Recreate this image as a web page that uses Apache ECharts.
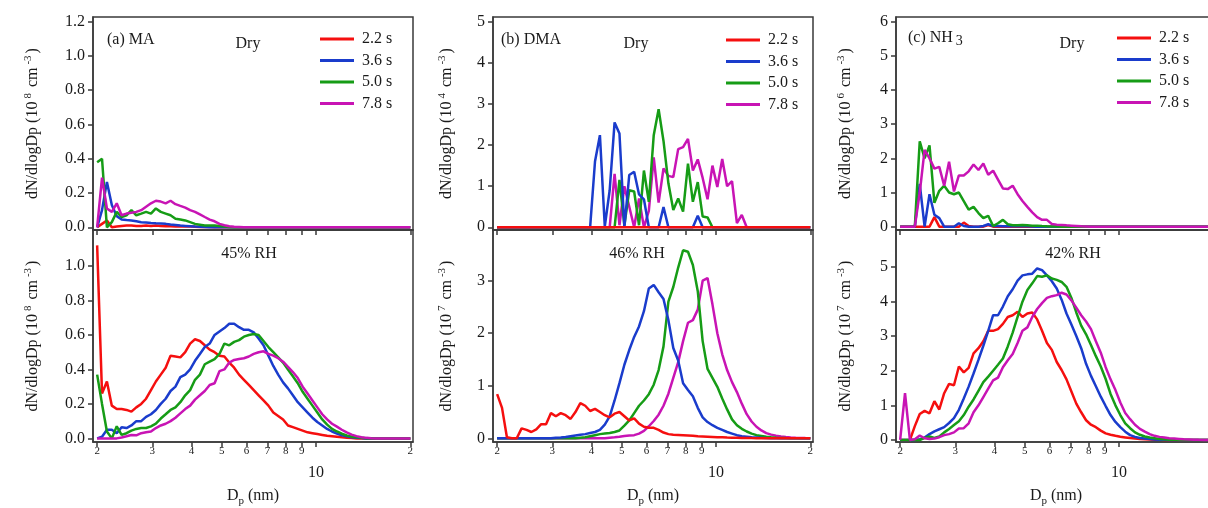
<!DOCTYPE html>
<html><head><meta charset="utf-8">
<script src="https://cdn.jsdelivr.net/npm/echarts@6/dist/echarts.min.js"></script>
<style>html,body{margin:0;padding:0;background:#fff;overflow:hidden;width:1208px;height:508px}#c{width:1240px;height:508px}</style>
</head><body><div id="c"></div>
<script>
// Particle diameter grid (nm)
const dp = [2.000,2.073,2.149,2.228,2.310,2.394,2.482,2.573,2.667,2.765,
 2.866,2.971,3.080,3.193,3.310,3.431,3.557,3.687,3.822,3.962,
 4.107,4.258,4.413,4.575,4.743,4.916,5.097,5.283,5.477,5.677,
 5.885,6.101,6.325,6.556,6.796,7.045,7.303,7.571,7.848,8.136,
 8.434,8.743,9.063,9.395,9.739,10.096,10.466,10.849,11.247,11.659,
 12.086,12.529,12.988,13.463,13.957,14.468,14.998,15.547,16.117,16.707,
 17.319,17.954,18.611,19.293,20.000];
const xTicks = [2,3,4,5,6,7,8,9,10,20];
const times = ['2.2 s','3.6 s','5.0 s','7.8 s'];

// (a) MA, dry (1e8 cm-3)
const maDry22 = [0,0.02,0.04,0,0.005,0.008,0.01,0.01,0.008,0.008,
 0.01,0.008,0.01,0.008,0.006,0.006,0.005,0.005,0.004,0.004,
 0.003,0.002,0.002,0.001,0,0,0,0,0,0,
 0,0,0,0,0,0,0,0,0,0, 0,0,0,0,0,0,0,0,0,0, 0,0,0,0,0,0,0,0,0,0, 0,0,0,0,0];
const maDry36 = [0,0.1,0.265,0.13,0.065,0.046,0.042,0.04,0.035,0.03,
 0.028,0.025,0.023,0.022,0.02,0.016,0.013,0.01,0.008,0.006,
 0.004,0.003,0.002,0,0,0,0,0,0,0,
 0,0,0,0,0,0,0,0,0,0, 0,0,0,0,0,0,0,0,0,0, 0,0,0,0,0,0,0,0,0,0, 0,0,0,0,0];
const maDry50 = [0.38,0.40,0,0.03,0.09,0.06,0.07,0.1,0.07,0.08,
 0.09,0.08,0.11,0.09,0.08,0.07,0.05,0.045,0.04,0.03,
 0.02,0.015,0.01,0.01,0.01,0.008,0.005,0.002,0,0,
 0,0,0,0,0,0,0,0,0,0, 0,0,0,0,0,0,0,0,0,0, 0,0,0,0,0,0,0,0,0,0, 0,0,0,0,0];
const maDry78 = [0,0.29,0.11,0.09,0.14,0.07,0.08,0.085,0.09,0.10,
 0.12,0.14,0.155,0.15,0.14,0.155,0.135,0.125,0.115,0.10,
 0.09,0.075,0.06,0.045,0.035,0.02,0.012,0.006,0.003,0.002,
 0,0,0,0,0,0,0,0,0,0, 0,0,0,0,0,0,0,0,0,0, 0,0,0,0,0,0,0,0,0,0, 0,0,0,0,0];
// (a) MA, 45% RH (1e8 cm-3)
const maWet22 = [1.12,0.26,0.33,0.19,0.17,0.17,0.165,0.155,0.18,0.2,
 0.23,0.28,0.33,0.37,0.41,0.48,0.475,0.47,0.5,0.55,
 0.575,0.565,0.54,0.515,0.5,0.48,0.475,0.44,0.41,0.37,
 0.34,0.31,0.28,0.25,0.22,0.19,0.15,0.13,0.11,0.075,
 0.065,0.055,0.045,0.035,0.03,0.025,0.02,0.015,0.012,0.009,
 0.006,0.004,0.002,0,0,0,0,0,0,0, 0,0,0,0,0];
const maWet36 = [0,0.01,0.05,0.05,0.03,0.065,0.06,0.075,0.1,0.1,
 0.125,0.14,0.165,0.2,0.23,0.275,0.3,0.355,0.37,0.4,
 0.45,0.49,0.53,0.55,0.6,0.62,0.64,0.665,0.665,0.645,
 0.63,0.63,0.615,0.58,0.54,0.48,0.42,0.37,0.325,0.29,
 0.25,0.21,0.18,0.15,0.12,0.095,0.075,0.055,0.04,0.028,
 0.018,0.012,0.007,0.004,0.002,0,0,0,0,0, 0,0,0,0,0];
const maWet50 = [0.37,0.2,0.04,0,0.07,0.02,0.03,0.045,0.055,0.06,
 0.06,0.07,0.085,0.115,0.14,0.165,0.18,0.21,0.25,0.28,
 0.34,0.37,0.43,0.445,0.46,0.49,0.55,0.54,0.56,0.57,
 0.59,0.6,0.605,0.6,0.565,0.53,0.5,0.47,0.44,0.4,
 0.36,0.32,0.27,0.23,0.19,0.15,0.11,0.08,0.055,0.04,
 0.027,0.017,0.01,0.006,0.003,0.001,0,0,0,0, 0,0,0,0,0];
const maWet78 = [0,0,0,0,0,0.005,0.012,0.02,0.018,0.03,
 0.035,0.04,0.06,0.075,0.085,0.1,0.12,0.145,0.17,0.19,
 0.225,0.25,0.275,0.31,0.32,0.39,0.4,0.44,0.455,0.46,
 0.465,0.475,0.49,0.5,0.505,0.49,0.48,0.465,0.445,0.415,
 0.385,0.35,0.3,0.26,0.22,0.18,0.14,0.11,0.085,0.068,
 0.05,0.035,0.022,0.013,0.007,0.003,0.001,0,0,0, 0,0,0,0,0];

// (b) DMA, dry (1e4 cm-3)
const dmaDry22 = [0,0,0,0,0,0,0,0,0,0, 0,0,0,0,0,0,0,0,0,0, 0,0,0,0,0,0,0,0,0,0,
 0,0,0,0,0,0,0,0,0,0, 0,0,0,0,0,0,0,0,0,0, 0,0,0,0,0,0,0,0,0,0, 0,0,0,0,0];
const dmaDry36 = [0,0,0,0,0,0,0,0,0,0, 0,0,0,0,0,0,0,0,0,0,
 1.6,2.24,0.02,0.9,2.55,2.28,0,1.27,1.35,0.8,
 0.68,0,0,0,0.49,0,0,0,0,0,
 0,0.28,0,0,0,0,0,0,0,0, 0,0,0,0,0,0,0,0,0,0, 0,0,0,0,0];
const dmaDry50 = [0,0,0,0,0,0,0,0,0,0, 0,0,0,0,0,0,0,0,0,0,
 0,0,0,0,0,1.15,0.05,0.9,0.87,0.05,
 1.38,0.62,2.24,2.87,2.1,1.07,0.42,0.7,0.38,1.55,
 0.62,1.1,0.26,0.24,0,0,0,0,0,0, 0,0,0,0,0,0,0,0,0,0, 0,0,0,0,0];
const dmaDry78 = [0,0,0,0,0,0,0,0,0,0, 0,0,0,0,0,0,0,0,0,0,
 0,0,0,0,1.3,0.05,1.0,0.5,0,0.7,
 0,0.4,1.7,0.6,1.43,1.25,1.22,1.9,1.95,2.15,
 1.38,1.65,1.2,0.68,1.5,0.98,1.66,1.0,1.12,0.1,
 0.3,0,0,0,0,0,0,0,0,0, 0,0,0,0,0];
// (b) DMA, 46% RH (1e7 cm-3)
const dmaWet22 = [0.84,0.58,0.02,0,0,0.19,0.16,0.12,0.17,0.27,
 0.27,0.48,0.42,0.48,0.44,0.37,0.5,0.67,0.62,0.52,
 0.56,0.5,0.44,0.4,0.47,0.5,0.42,0.34,0.38,0.28,
 0.22,0.2,0.2,0.16,0.11,0.08,0.07,0.065,0.06,0.055,
 0.05,0.04,0.035,0.03,0.025,0.02,0.02,0.015,0.012,0.01,
 0.008,0.006,0.004,0.003,0.002,0,0,0,0,0, 0,0,0,0,0];
const dmaWet36 = [0,0,0,0,0,0,0,0,0,0,
 0,0,0.01,0.015,0.025,0.04,0.055,0.07,0.08,0.1,
 0.12,0.16,0.26,0.42,0.72,1.05,1.4,1.68,1.93,2.13,
 2.42,2.85,2.92,2.78,2.65,2.25,1.72,1.48,1.05,0.92,
 0.8,0.58,0.4,0.31,0.25,0.2,0.16,0.12,0.09,0.06,
 0.04,0.03,0.02,0.015,0.01,0.006,0.003,0,0,0, 0,0,0,0,0];
const dmaWet50 = [0,0,0,0,0,0,0,0,0,0,
 0,0,0,0,0,0,0,0.01,0.02,0.04,
 0.06,0.08,0.09,0.1,0.12,0.15,0.24,0.34,0.48,0.62,
 0.72,0.84,1.02,1.3,1.75,2.6,2.88,3.25,3.58,3.55,
 3.3,2.8,1.85,1.32,1.15,0.98,0.76,0.55,0.36,0.25,
 0.18,0.13,0.09,0.06,0.045,0.03,0.02,0.012,0.007,0.004,
 0.002,0,0,0,0];
const dmaWet78 = [0,0,0,0,0,0,0,0,0,0,
 0,0,0,0,0,0,0,0,0,0,
 0,0,0,0.01,0.02,0.03,0.045,0.055,0.06,0.09,
 0.14,0.23,0.33,0.45,0.62,0.85,1.15,1.45,1.85,2.2,
 2.25,2.45,3.0,3.05,2.55,2.0,1.6,1.3,1.07,0.88,
 0.66,0.46,0.32,0.22,0.15,0.1,0.07,0.05,0.035,0.025,
 0.018,0.012,0.008,0.005,0.003];

// (c) NH3, dry (1e6 cm-3)
const nh3Dry22 = [0,0,0,0,0,0,0,0.28,0,0,
 0,0,0,0.12,0.02,0,0,0,0.05,0,
 0,0,0,0,0,0,0,0,0,0, 0,0,0,0,0,0,0,0,0,0, 0,0,0,0,0,0,0,0,0,0, 0,0,0,0,0,0,0,0,0,0, 0,0,0,0,0];
const nh3Dry36 = [0,0,0,0,1.25,0,0.95,0.35,0.25,0,
 0,0,0.1,0.02,0,0,0,0.02,0.07,0.02,
 0.02,0.01,0.01,0.01,0.01,0.01,0.01,0.005,0,0,
 0,0,0,0,0,0,0,0,0,0, 0,0,0,0,0,0,0,0,0,0, 0,0,0,0,0,0,0,0,0,0, 0,0,0,0,0];
const nh3Dry50 = [0,0,0,0,2.5,2.0,2.38,0.7,1.05,1.2,
 1.0,0.95,1.0,0.75,0.5,0.58,0.4,0.25,0.32,0.02,
 0.1,0.2,0.07,0.04,0.04,0.05,0.04,0.03,0.03,0.02,
 0.01,0.005,0.005,0,0,0,0,0,0,0, 0,0,0,0,0,0,0,0,0,0, 0,0,0,0,0,0,0,0,0,0, 0,0,0,0,0];
const nh3Dry78 = [0,0,0,0,1.0,2.25,2.0,1.7,1.75,1.2,
 1.9,1.03,1.5,1.5,1.62,1.82,1.66,1.85,1.52,1.64,
 1.38,1.12,1.1,1.2,0.95,0.75,0.58,0.42,0.28,0.2,
 0.2,0.08,0.06,0.05,0.04,0.03,0.02,0.01,0.005,0,
 0,0,0,0,0,0,0,0,0,0, 0,0,0,0,0,0,0,0,0,0, 0,0,0,0,0];
// (c) NH3, 42% RH (1e7 cm-3)
const nh3Wet22 = [0,0,0,0.4,0.75,0.84,0.77,1.12,0.88,1.35,
 1.62,1.58,2.12,1.95,2.08,2.5,2.65,2.85,3.15,3.15,
 3.2,3.35,3.55,3.6,3.7,3.55,3.65,3.68,3.48,3.15,
 2.8,2.6,2.25,2.02,1.75,1.4,1.05,0.8,0.57,0.44,
 0.37,0.27,0.19,0.15,0.12,0.095,0.075,0.055,0.04,0.03,
 0.022,0.015,0.01,0.006,0.003,0,0,0,0,0, 0,0,0,0,0];
const nh3Wet36 = [0,0,0,0,0.02,0.07,0.17,0.25,0.31,0.37,
 0.49,0.63,0.87,1.2,1.54,1.92,2.31,2.72,3.15,3.6,
 3.6,3.85,4.15,4.35,4.6,4.75,4.78,4.8,4.95,4.9,
 4.75,4.58,4.37,4.05,3.65,3.33,3.0,2.65,2.2,1.85,
 1.55,1.25,0.98,0.72,0.52,0.37,0.24,0.14,0.09,0.06,
 0.04,0.025,0.015,0.008,0.004,0,0,0,0,0, 0,0,0,0,0];
const nh3Wet50 = [0,0,0,0,0,0.06,0.1,0.06,0.1,0.22,
 0.32,0.43,0.54,0.72,0.96,1.17,1.42,1.67,1.83,2.0,
 2.17,2.35,2.7,3.1,3.55,3.99,4.33,4.52,4.73,4.71,
 4.75,4.66,4.62,4.56,4.42,4.1,3.68,3.3,3.05,2.74,
 2.42,2.12,1.76,1.33,1.0,0.72,0.48,0.34,0.22,0.15,
 0.1,0.07,0.05,0.03,0.02,0.01,0.005,0,0,0, 0,0,0,0,0];
const nh3Wet78 = [0,1.35,0,0.02,0.13,0.05,0.03,0.04,0.08,0.14,
 0.17,0.22,0.33,0.34,0.48,0.8,1.0,1.24,1.48,1.72,
 1.8,2.1,2.3,2.48,2.8,3.15,3.25,3.55,3.78,3.95,
 4.1,4.15,4.18,4.25,4.2,4.03,3.82,3.6,3.42,3.2,
 2.85,2.52,2.1,1.75,1.44,1.08,0.78,0.6,0.44,0.32,
 0.24,0.17,0.12,0.09,0.07,0.05,0.04,0.03,0.02,0.015,
 0.01,0.006,0.003,0,0];

const colors = ['#f50f0f', '#1a3ccc', '#169c16', '#c814b4'];
const FONT = 'Liberation Serif, Times New Roman, serif';
const TXT = '#1a1a1a';

const panels = [
  {left: 93, top: 17, height: 213, bottomRow: false, ymin: -0.0158, ymax: 1.2274, yt: [0,0.2,0.4,0.6,0.8,1.0,1.2], dec: 1, exp: '8', gap: 50, data: [maDry22, maDry36, maDry50, maDry78], order: [0,1,2,3]},
  {left: 93, top: 230, height: 212, bottomRow: true, ymin: -0.021, ymax: 1.209, yt: [0,0.2,0.4,0.6,0.8,1.0], dec: 1, exp: '8', gap: 50, data: [maWet22, maWet36, maWet50, maWet78], order: [0,1,2,3]},
  {left: 493, top: 17, height: 213, bottomRow: false, ymin: -0.066, ymax: 5.114, yt: [0,1,2,3,4,5], dec: 0, exp: '4', gap: 36, data: [dmaDry22, dmaDry36, dmaDry50, dmaDry78], order: [3,2,1,0]},
  {left: 493, top: 230, height: 212, bottomRow: true, ymin: -0.07, ymax: 3.965, yt: [0,1,2,3], dec: 0, exp: '7', gap: 36, data: [dmaWet22, dmaWet36, dmaWet50, dmaWet78], order: [3,2,1,0]},
  {left: 896, top: 17, height: 213, bottomRow: false, ymin: -0.097, ymax: 6.138, yt: [0,1,2,3,4,5,6], dec: 0, exp: '6', gap: 40, data: [nh3Dry22, nh3Dry36, nh3Dry50, nh3Dry78], order: [0,1,2,3]},
  {left: 896, top: 230, height: 212, bottomRow: true, ymin: -0.058, ymax: 6.06, yt: [0,1,2,3,4,5], dec: 0, exp: '7', gap: 40, data: [nh3Wet22, nh3Wet36, nh3Wet50, nh3Wet78], order: [0,1,2,3]}
];

const grids = [], xAxes = [], yAxes = [], series = [];
panels.forEach((p, i) => {
  grids.push({left: p.left, top: p.top, width: 320, height: p.height, show: true, borderColor: '#3a3a3a', borderWidth: 1.5, backgroundColor: 'transparent', containLabel: false});
  xAxes.push({
    type: 'log', gridIndex: i, min: 1.94, max: 20.4, logBase: 10,
    axisLine: {show: true, onZero: false, lineStyle: {color: '#3a3a3a', width: 1.5}},
    axisTick: {show: true, customValues: xTicks, length: 5, lineStyle: {color: '#3a3a3a', width: 1.5}},
    splitLine: {show: false}, minorTick: {show: false},
    axisLabel: {
      show: p.bottomRow, customValues: xTicks, margin: 4,
      formatter: v => (Math.abs(v - 10) < 1e-6 ? '{big|10}' : '{s|' + String(Math.round(v)).charAt(0) + '}'),
      rich: {
        s: {fontFamily: FONT, fontSize: 11, lineHeight: 11, color: TXT},
        big: {fontFamily: FONT, fontSize: 16, lineHeight: 16, color: TXT, padding: [38, 0, 0, 0]}
      }
    },
    name: p.bottomRow ? 'D{sub|p} (nm)' : '', nameLocation: 'middle', nameGap: 43,
    nameMoveOverlap: false,
    nameTextStyle: {fontFamily: FONT, fontSize: 16, color: TXT, lineHeight: 22,
      rich: {sub: {fontFamily: FONT, fontSize: 11, color: TXT, lineHeight: 11, verticalAlign: 'bottom'}}}
  });
  yAxes.push({
    type: 'value', gridIndex: i, min: p.ymin, max: p.ymax,
    axisLine: {show: true, lineStyle: {color: '#3a3a3a', width: 1.5}},
    axisTick: {show: true, customValues: p.yt, length: 5, lineStyle: {color: '#3a3a3a', width: 1.5}},
    splitLine: {show: false},
    axisLabel: {customValues: p.yt, margin: 8, fontFamily: FONT, fontSize: 16, color: TXT,
      formatter: v => v.toFixed(p.dec)},
    name: 'dN/dlogDp (10{sup|' + p.exp + '} cm{sup|-3})', nameLocation: 'middle', nameGap: p.gap,
    nameTextStyle: {fontFamily: FONT, fontSize: 16, color: TXT, lineHeight: 20,
      rich: {sup: {fontFamily: FONT, fontSize: 11, color: TXT, lineHeight: 11, verticalAlign: 'top', padding: [0, 2, 0, 3]}}}
  });
  p.order.forEach(j => {
    series.push({
      type: 'line', name: times[j], xAxisIndex: i, yAxisIndex: i,
      data: dp.map((x, k) => [x, p.data[j][k]]),
      showSymbol: false, symbol: 'none', clip: true,
      lineStyle: {width: 2.5, color: colors[j]}, itemStyle: {color: colors[j]},
      emphasis: {disabled: true}
    });
  });
});

function legendAt(left, top) {
  return {
    data: times, orient: 'vertical', left: left, top: top, icon: 'rect',
    itemWidth: 34, itemHeight: 3, itemGap: 5.5, selectedMode: false, padding: 0,
    textStyle: {fontFamily: FONT, fontSize: 16, color: TXT, lineHeight: 16, padding: [0, 0, 0, 3]}
  };
}

function label(text, x, y, align, rich) {
  return {type: 'text', x: x, y: y, z: 100,
    style: {text: text, x: 0, y: 0, align: align || 'left', verticalAlign: 'middle',
      fontFamily: FONT, fontSize: 16, fill: TXT, rich: rich}};
}
const subRich = {s: {fontFamily: FONT, fontSize: 14, fill: TXT, padding: [6, 0, 0, 3]}};

const option = {
  animation: false,
  backgroundColor: '#ffffff',
  grid: grids, xAxis: xAxes, yAxis: yAxes, series: series,
  legend: [legendAt(320, 31), legendAt(726, 32), legendAt(1117, 30)],
  graphic: [
    label('(a) MA', 107, 40), label('Dry', 248, 44, 'center'), label('45% RH', 249, 254, 'center'),
    label('(b) DMA', 501, 40), label('Dry', 636, 44, 'center'), label('46% RH', 637, 254, 'center'),
    label('(c) NH{s|3}', 908, 38, 'left', subRich), label('Dry', 1072, 44, 'center'), label('42% RH', 1073, 254, 'center')
  ]
};
const chart = echarts.init(document.getElementById('c'), null, {renderer: 'canvas'});
chart.setOption(option);
</script>
</body></html>
